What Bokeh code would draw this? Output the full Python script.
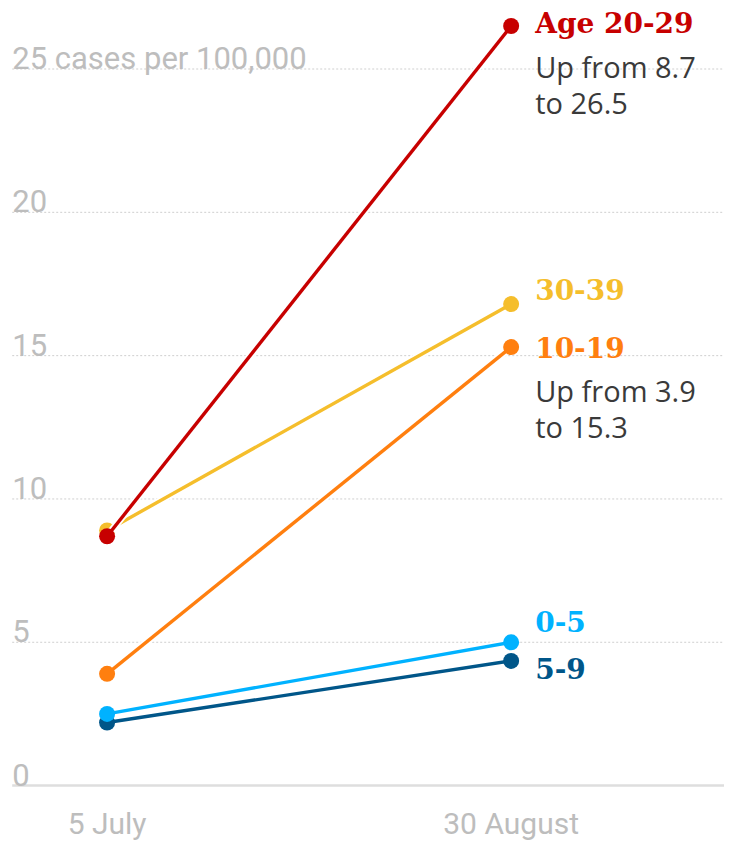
from bokeh.plotting import figure
from bokeh.models import Range1d
from bokeh.core.properties import value
from bokeh.embed import file_html
from bokeh.resources import INLINE

# ---- data ----
dates = ["5 July", "30 August"]
groups = ["5-9", "0-5", "10-19", "30-39", "Age 20-29"]
july = [2.2, 2.5, 3.9, 8.9, 8.7]
august = [4.35, 5.0, 15.3, 16.8, 26.5]
colors = ["#005689", "#00b2ff", "#ff7f0f", "#f5be2c", "#c70000"]
label_dy = [8, -21, 0, -15, -3]          # pixel offsets of the end labels
notes = {"Age 20-29": ["Up from 8.7", "to 26.5"], "10-19": ["Up from 3.9", "to 15.3"]}
y_ticks = [0, 5, 10, 15, 20, 25]
y_tick_labels = ["0", "5", "10", "15", "20", "25 cases per 100,000"]

W, H = 724, 843
p = figure(width=W, height=H, output_backend="svg", toolbar_location=None,
           x_range=Range1d(-0.2638, 1.528), y_range=Range1d(-2.02, 27.39),
           x_axis_type=None, y_axis_type=None, min_border=0)
p.outline_line_color = None
p.background_fill_color = "white"
p.border_fill_color = "white"

x_left = -0.2348
x_right = 1.528

# gridlines
grid_t = [t for t in y_ticks if t > 0]
p.segment(x0=[x_left] * len(grid_t), x1=[x_right] * len(grid_t), y0=grid_t, y1=grid_t,
          line_color="#cfcfcf", line_width=1, line_dash="2 2")
p.segment(x0=[x_left], x1=[x_right], y0=[0], y1=[0], line_color="#dedede", line_width=2.5)

# y tick labels
p.text(x=[x_left] * len(y_ticks), y=y_ticks, text=y_tick_labels, text_align="left",
       text_baseline="alphabetic", y_offset=-11, text_color="#bdbdbd",
       text_font=value("Roboto"), text_font_size="31px")

# x labels
p.text(x=[0, 1], y=[0, 0], text=dates, text_align="center", text_baseline="middle",
       y_offset=38, text_color="#bdbdbd", text_font=value("Roboto"), text_font_size="30px")

# lines
for g, a, b, c in zip(groups, july, august, colors):
    p.line(x=[0, 1], y=[a, b], line_color="white", line_width=7)
    p.line(x=[0, 1], y=[a, b], line_color=c, line_width=3.4)
    p.scatter(x=[0, 1], y=[a, b], size=16, fill_color=c, line_color=None)

# end labels
for g, b, c, dy in zip(groups, august, colors, label_dy):
    p.text(x=[1], y=[b], text=[g], x_offset=24, y_offset=dy, text_align="left",
           text_baseline="middle", text_color=c, text_font=value("DejaVu Serif"),
           text_font_style="bold", text_font_size="28px")
    if g in notes:
        for i, line in enumerate(notes[g]):
            p.text(x=[1], y=[b], text=[line], x_offset=24, y_offset=dy + 43 + 36 * i,
                   text_align="left", text_baseline="middle", text_color="#3a3a3a",
                   text_font=value("Open Sans"), text_font_size="29px")

open("out.html", "w").write(file_html(p, INLINE))
